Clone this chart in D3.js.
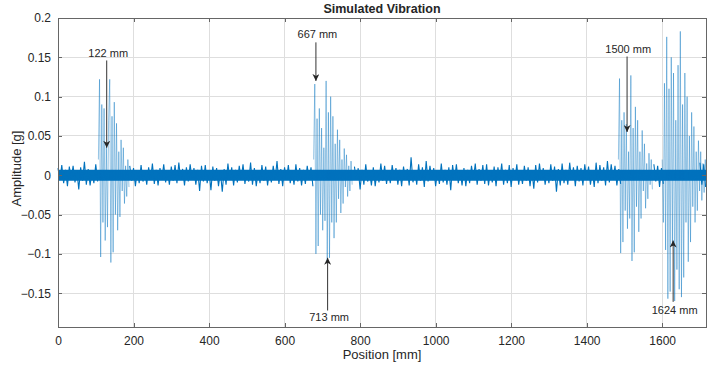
<!DOCTYPE html>
<html>
<head>
<meta charset="utf-8">
<script src="https://cdn.jsdelivr.net/npm/d3@7"></script>
<style>
  body { margin: 0; background: #fff; }
  text { font-family: "Liberation Sans", Arial, sans-serif; fill: #262626; }
</style>
</head>
<body>
<div id="chart"></div>
<script>
// background noise, signed extremes every 5 mm
var noiseA = [0.009,-0.006,0.013,-0.010,0.007,-0.014,0.011,-0.005,0.012,-0.009,0.006,-0.018,0.010,-0.007,0.017,-0.012,0.008,-0.013,0.006,-0.010,0.014,-0.008];
var noiseB = [
  0.012,-0.007,0.009,-0.014,0.006,-0.010,0.013,-0.008,0.005,-0.012,
  0.010,-0.006,0.015,-0.011,0.007,-0.013,0.009,-0.005,0.014,-0.009,
  0.006,-0.012,0.011,-0.007,0.013,-0.010,0.016,-0.006,0.008,-0.013,
  0.010,-0.008,0.014,-0.006,0.009,-0.012,0.007,-0.020,0.012,-0.008,
  0.013,-0.010,0.006,-0.019,0.011,-0.007,0.009,-0.014,0.005,-0.021,
  0.008,-0.012,0.015,-0.006,0.010,-0.013,0.007,-0.009,0.012,-0.005,
  0.014,-0.011,0.006,-0.008,0.016,-0.012,0.009,-0.014,0.005,-0.010,
  0.013,-0.007,0.011,-0.013,0.006,-0.009,0.012,-0.006,0.018,-0.011,
  0.008,-0.014,0.010,-0.006,0.013,-0.010,0.005,-0.012,0.014,-0.008,
  0.009,-0.013,0.007,-0.011,0.012,-0.006,0.010,-0.014];
var noiseC = [
  0.011,-0.006,0.009,-0.018,0.007,-0.012,0.014,-0.008,0.005,-0.013,
  0.010,-0.014,0.006,-0.009,0.015,-0.007,0.012,-0.011,0.006,-0.010,
  0.013,-0.005,0.009,-0.012,0.007,-0.014,0.011,-0.006,0.008,-0.013,
  0.023,-0.009,0.006,-0.012,0.014,-0.007,0.010,-0.015,0.018,-0.008,
  0.012,-0.006,0.009,-0.014,0.005,-0.011,0.015,-0.009,0.007,-0.012,
  0.010,-0.019,0.013,-0.006,0.014,-0.010,0.006,-0.013,0.009,-0.014,
  0.007,-0.010,0.012,-0.005,0.015,-0.012,0.008,-0.007,0.013,-0.011,
  0.014,-0.013,0.006,-0.009,0.011,-0.014,0.010,-0.006,0.015,-0.012,
  0.007,-0.010,0.013,-0.015,0.009,-0.006,0.014,-0.012,0.005,-0.011,
  0.012,-0.007,0.010,-0.014,0.006,-0.017,0.013,-0.009,0.015,-0.006,
  0.009,-0.012,0.006,-0.010,0.014,-0.007,0.011,-0.021,0.008,-0.013,
  0.015,-0.010,0.007,-0.012,0.016,-0.006,0.010,-0.014,0.012,-0.008,
  0.009,-0.013,0.014,-0.006,0.011,-0.012,0.006,-0.015,0.016,-0.010,
  0.013,-0.007,0.010,-0.013,0.018,-0.009,0.014,-0.006,0.012,-0.013,
  0.008,-0.011];
var noiseD = [0.014,-0.008,0.012,-0.015,0.009,-0.011];
var noiseE = [0.016,-0.012,0.014,-0.015];

// impact bursts, signed extremes every 3 mm
var burst1 = [0.02,0.122,-0.104,0.09,-0.06,0.085,-0.083,0.04,-0.066,0.07,0.122,-0.111,0.075,-0.098,0.093,-0.05,0.066,-0.07,0.03,-0.053,0.045,-0.02,0.035,-0.036,0.012,-0.027,0.02,-0.015];
var burst2 = [0.02,0.116,-0.1,0.072,-0.09,0.085,-0.05,0.06,-0.07,0.035,-0.058,0.12,-0.11,0.08,-0.105,0.1,-0.06,0.075,-0.08,0.04,-0.06,0.058,-0.03,0.045,-0.048,0.02,-0.036,0.034,-0.015,0.026,-0.027,0.012,-0.02,0.018,-0.012];
var burst3 = [0.02,0.123,-0.099,0.07,-0.085,0.08,-0.045,0.065,-0.068,0.03,-0.055,0.127,-0.109,0.06,-0.098,0.087,-0.04,0.07,-0.072,0.03,-0.055,0.057,-0.02,0.04,-0.042,0.015,-0.03,0.028,-0.012,0.02,-0.018];
var burst4 = [0.02,-0.06,0.117,-0.095,0.176,-0.157,0.11,-0.148,0.15,-0.09,0.13,-0.16,0.07,-0.12,0.14,-0.145,0.183,-0.155,0.09,-0.13,0.13,-0.06,0.1,-0.11,0.05,-0.085,0.08,-0.04,0.062,-0.06,0.03,-0.045,0.044,-0.02,0.03,-0.032,0.015,-0.022,0.02,-0.012];

// [start mm, step mm, values]
var segments = [
  [0, 5, noiseA], [107, 3, burst1], [190, 5, noiseB], [677, 3, burst2],
  [785, 5, noiseC], [1484, 3, burst3], [1578, 5, noiseD], [1600, 3, burst4],
  [1700, 5, noiseE]
];
var noiseCore = 0.007;
var xMax = 1716;

var xTicks = [0, 200, 400, 600, 800, 1000, 1200, 1400, 1600];
var yTicks = [-0.15, -0.1, -0.05, 0, 0.05, 0.1, 0.15, 0.2];

var annotLabels = ["122 mm", "667 mm", "713 mm", "1500 mm", "1624 mm"];
var annotX = [129, 683, 714, 1507, 1629];
var annotFrom = [0.146, 0.169, -0.172, 0.151, -0.161];
var annotTo = [0.035, 0.12, -0.105, 0.055, -0.083];
var annotTextX = [133, 687, 718, 1510, 1633];
var annotTextY = [0.150, 0.175, -0.185, 0.155, -0.177];

//Dimensions and Margins
var margin = { top: 18, right: 1, bottom: 40, left: 58 },
    width = 707 - margin.left - margin.right,
    height = 367 - margin.top - margin.bottom;

var svg = d3.select("#chart")
    .append("svg")
    .attr("width", 707)
    .attr("height", 367)
    .append("g")
    .attr("transform", "translate(" + margin.left + "," + margin.top + ")");

var x = d3.scaleLinear().domain([0, xMax]).range([0, width]);
var y = d3.scaleLinear().domain([-0.193, 0.2]).range([height, 0]);

//Grid
svg.append("g").selectAll("line")
    .data(xTicks.slice(1))
    .enter().append("line")
    .attr("x1", d => x(d)).attr("x2", d => x(d))
    .attr("y1", 0).attr("y2", height)
    .attr("stroke", "#dedede").attr("stroke-width", 1)
    .attr("shape-rendering", "crispEdges");
svg.append("g").selectAll("line")
    .data(yTicks)
    .enter().append("line")
    .attr("x1", 0).attr("x2", width)
    .attr("y1", d => y(d)).attr("y2", d => y(d))
    .attr("stroke", "#dedede").attr("stroke-width", 1)
    .attr("shape-rendering", "crispEdges");

//Signal
// dense core of the noise band along the whole record
svg.append("rect")
    .attr("x", x(0))
    .attr("width", x(xMax) - x(0))
    .attr("y", y(noiseCore))
    .attr("height", y(-noiseCore) - y(noiseCore))
    .attr("fill", "#0072BD");

var line = d3.line().x(d => x(d[0])).y(d => y(d[1]));
segments.forEach(function (s) {
    var pts = s[2].map(function (v, i) { return [s[0] + i * s[1], v]; });
    var isNoise = s[1] === 5;
    svg.append("path")
        .datum(pts)
        .attr("fill", "none")
        .attr("stroke", "#0072BD")
        .attr("stroke-opacity", isNoise ? 1 : 0.7)
        .attr("stroke-width", isNoise ? 1.1 : 0.6)
        .attr("d", line);
});

//Axes (box, ticks inside)
var axisColor = "#666";
var xAxis = svg.append("g").attr("transform", "translate(0," + height + ")")
    .call(d3.axisBottom(x).tickValues(xTicks).tickSizeInner(-4).tickSizeOuter(0).tickPadding(9).tickFormat(d3.format("d")));
var xAxisTop = svg.append("g")
    .call(d3.axisTop(x).tickValues(xTicks).tickSizeInner(-4).tickSizeOuter(0).tickFormat(""));
var yAxis = svg.append("g")
    .call(d3.axisLeft(y).tickValues(yTicks).tickSizeInner(-4).tickSizeOuter(0).tickPadding(7).tickFormat(d => d3.format("")(+d.toFixed(2))));
var yAxisRight = svg.append("g").attr("transform", "translate(" + width + ",0)")
    .call(d3.axisRight(y).tickValues(yTicks).tickSizeInner(-4).tickSizeOuter(0).tickFormat(""));
[xAxis, xAxisTop, yAxis, yAxisRight].forEach(function (a) {
    a.select(".domain").attr("stroke", axisColor).attr("shape-rendering", "crispEdges");
    a.selectAll(".tick line").attr("stroke", axisColor).attr("shape-rendering", "crispEdges");
    a.selectAll("text").style("font-size", "12px").attr("fill", "#262626")
        .style("font-family", "'Liberation Sans', Arial, sans-serif");
});

//Annotations
svg.append("defs").append("marker")
    .attr("id", "head")
    .attr("viewBox", "0 0 10 10")
    .attr("refX", 10).attr("refY", 5)
    .attr("markerWidth", 7).attr("markerHeight", 7)
    .attr("markerUnits", "userSpaceOnUse")
    .attr("orient", "auto")
    .append("path").attr("d", "M0,0L10,5L0,10L3,5Z").attr("fill", "#262626");

annotLabels.forEach(function (lab, i) {
    svg.append("line")
        .attr("x1", x(annotX[i])).attr("x2", x(annotX[i]))
        .attr("y1", y(annotFrom[i])).attr("y2", y(annotTo[i]))
        .attr("stroke", "#333").attr("stroke-width", 1)
        .attr("marker-end", "url(#head)");
    svg.append("text")
        .attr("x", x(annotTextX[i]))
        .attr("y", y(annotTextY[i]))
        .attr("text-anchor", "middle")
        .style("font-size", "11px")
        .text(lab);
});

//Title
svg.append("text")
    .attr("x", width / 2)
    .attr("y", -5)
    .attr("text-anchor", "middle")
    .style("font-size", "12.5px")
    .style("font-weight", "bold")
    .text("Simulated Vibration");

//X Axis label
svg.append("text")
    .attr("x", width / 2)
    .attr("y", height + 32)
    .style("text-anchor", "middle")
    .style("font-size", "13px")
    .text("Position [mm]");

//Y Axis Label
svg.append("text")
    .attr("transform", "rotate(-90)")
    .attr("x", 0 - (height / 2) + 4)
    .attr("y", -37)
    .style("text-anchor", "middle")
    .style("font-size", "13px")
    .text("Amplitude [g]");
</script>
</body>
</html>
